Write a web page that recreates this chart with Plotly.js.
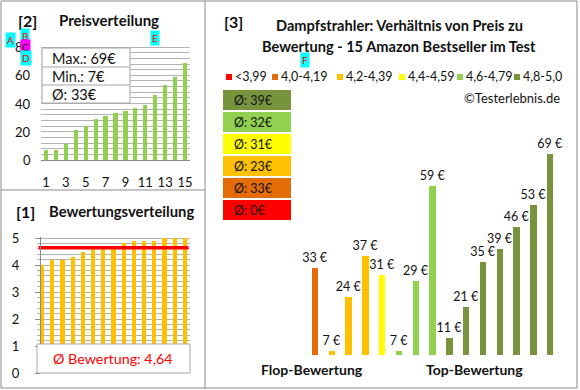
<!DOCTYPE html>
<html><head><meta charset="utf-8">
<script src="https://cdn.plot.ly/plotly-3.0.1.min.js"></script>
<style>html,body{margin:0;padding:0;background:#fff}</style>
</head><body><div id="chart" style="width:580px;height:390px"></div>
<script>
// ---------- data ----------
const rankLabels = [1,2,3,4,5,6,7,8,9,10,11,12,13,14,15];
const pricesSorted = [7,7,11,21,24,29,31,33,35,37,39,46,53,59,69];
const ratingsSorted = [4.0,4.2,4.2,4.3,4.5,4.6,4.6,4.6,4.8,4.9,4.9,4.9,5.0,5.0,5.0];
const avgRatingLabel = 4.64;
const productPrices = [33,7,24,37,31,7,29,59,11,21,35,39,46,53,69];
const productGroup  = [1,2,2,2,3,4,4,4,5,5,5,5,5,5,5];
const groupLabels = ['<3,99','4,0-4,19','4,2-4,39','4,4-4,59','4,6-4,79','4,8-5,0'];
const groupColors = ['#FF0000','#E36C09','#FFC000','#FFFF00','#92D050','#77933C'];
const sideLabels = ['Flop-Bewertung','Top-Bewertung'];
const priceTicks = [0,20,40,60,80];
const ratingTicks = [0,1,2,3,4,5];

const W = 580, H = 390;
const px = x => x / W;
const py = y => 1 - y / H;
const FONT = 'Lato, "Open Sans", sans-serif';
const BORDER = '#8a8a8a';
const GRID = '#b3b3b3';
const priceDomPx = [160, 46];
const priceRange = [0, 80.8];
const priceY = v => priceDomPx[0] - (v - priceRange[0]) / (priceRange[1] - priceRange[0]) * (priceDomPx[0] - priceDomPx[1]);

const avgPrice = Math.round(pricesSorted.reduce((a,b)=>a+b,0)/pricesSorted.length);
const groupAvg = groupLabels.map((_, g) => {
  const v = productPrices.filter((p,i)=>productGroup[i]===g);
  return v.length ? Math.round(v.reduce((a,b)=>a+b,0)/v.length) : 0;
});
const barIdx = productPrices.map((_,i)=>i+1);

const traces = [
  {type:'bar', x: rankLabels, y: pricesSorted, xaxis:'x', yaxis:'y', marker:{color:'#92D050'}, width:0.42},
  {type:'bar', x: rankLabels, y: ratingsSorted, xaxis:'x2', yaxis:'y2', marker:{color:'#FFC000'}, width:0.42},
  {type:'scatter', mode:'lines', x:[rankLabels[0]-0.35, rankLabels[rankLabels.length-1]+0.35],
   y:[avgRatingLabel, avgRatingLabel], xaxis:'x2', yaxis:'y2', line:{color:'#FF0000', width:3.5}},
  {type:'bar', x: barIdx, y: productPrices, xaxis:'x3', yaxis:'y3',
   marker:{color: productGroup.map(g=>groupColors[g])}, width:0.39,
   texttemplate:'%{y} €', textposition:'outside', cliponaxis:false, constraintext:'none',
   textfont:{family:FONT, size:12.5, color:'#111'}}
];
const shapes = [];
const annotations = [];
function rect(x0,y0,x1,y1,fill,line,lw){
  shapes.push({type:'rect', xref:'paper', yref:'paper', x0:px(x0), x1:px(x1), y0:py(y1), y1:py(y0),
    fillcolor:fill, line:{color:line||'rgba(0,0,0,0)', width: lw===undefined?1:lw}, layer:'above'});
}
function line(x0,y0,x1,y1,color,w){
  shapes.push({type:'line', xref:'paper', yref:'paper', x0:px(x0), x1:px(x1), y0:py(y0), y1:py(y1),
    line:{color:color, width:w||1}, layer:'above'});
}
function text(t,x,y,opts){
  opts = opts||{};
  annotations.push({xref:'paper', yref:'paper', x:px(x), y:py(y), text:t, showarrow:false,
    xanchor:opts.xa||'left', yanchor:'middle', bgcolor: opts.bg||'rgba(0,0,0,0)',
    font:{family:FONT, size:opts.size||12, color:opts.color||'#111', weight: opts.bold?'bold':'normal'}});
}
rect(1,1,577,388,'rgba(0,0,0,0)',BORDER,1);
line(205,1,205,388,BORDER,1);
line(1,190,205,190,BORDER,1);
text('[2]',16,20,{size:16,bold:true});
text('Preisverteilung',57,20,{size:15,bold:true});
priceTicks.forEach(v=>{ text(String(v),33,priceY(v),{size:13,xa:'right'}); });
rect(42,48,130,103,'#ffffff','#a6a6a6',1);
line(42,67,130,67,'#a6a6a6',1);
line(42,85,130,85,'#a6a6a6',1);
text('Max.: ' + Math.max(...pricesSorted) + '€',50,58,{size:14.5});
text('Min.: ' + Math.min(...pricesSorted) + '€',50,76.5,{size:14.5});
text('Ø: ' + avgPrice + '€',50,94.5,{size:14.5});
text('[1]',14,211,{size:16,bold:true});
text('Bewertungsverteilung',47,211,{size:14.8,bold:true});
rect(37,344,190,373,'#ffffff','#a6a6a6',1);
text('Ø Bewertung: ' + String(avgRatingLabel).replace('.',','),112,358,{size:14.3,color:'#FF0000',xa:'center'});
text('[3]',222,21,{size:16,bold:true});
text('Dampfstrahler: Verhältnis von Preis zu',399,26,{size:14.6,bold:true,xa:'center'});
text('Bewertung - 15 Amazon Bestseller im Test',399,46,{size:14.6,bold:true,xa:'center'});
const legendX = [226,272,337,399,457,514];
groupLabels.forEach((lab,g)=>{
  rect(legendX[g],74,legendX[g]+6,80,groupColors[g],null,0);
  text(lab,legendX[g]+7,77,{size:12.5});
});
text('©Testerlebnis.de',562,98,{size:13,xa:'right'});
for (let i=0;i<6;i++){
  const g = 5-i; const y0 = 90 + i*22;
  rect(223,y0,291,y0+20,groupColors[g],null,0);
  text('Ø: ' + groupAvg[g] + '€',232,y0+10.5,{size:12.5});
}
text(sideLabels[0],312,369,{size:14,bold:true,xa:'center'});
text(sideLabels[1],474,369,{size:14,bold:true,xa:'center'});
// DIAGNOSTIC markers
text('A',5,40,{size:10,bg:'cyan',color:'red'});
text('B',20,36,{size:10,bg:'cyan',color:'red'});
text('C',20,47,{size:10,bg:'magenta',color:'black'});
text('D',20,58,{size:10,bg:'cyan',color:'red'});
text('E',150,38,{size:10,bg:'cyan',color:'red'});
text('F',300,60,{size:10,bg:'cyan',color:'red'});

const tickFont = {family:FONT, size:13, color:'#111'};
const layout = {
  width:W, height:H, margin:{l:0,r:0,t:0,b:0},
  paper_bgcolor:'#ffffff', plot_bgcolor:'rgba(0,0,0,0)',
  showlegend:false, hovermode:false, bargap:0,
  xaxis:{domain:[px(41),px(190)], range:[0.5,15.5], tickmode:'array',
    tickvals:[1,3,5,7,9,11,13,15], ticks:'', showgrid:false, showline:true, linecolor:'#8a8a8a',
    tickfont:tickFont, ticklabelstandoff:10, zeroline:false, fixedrange:true},
  yaxis:{domain:[py(priceDomPx[0]),py(priceDomPx[1])], range:priceRange, tickmode:'array', tickvals:priceTicks,
    showgrid:true, gridcolor:GRID, showticklabels:false,
    minor:{dtick:4, showgrid:true, gridcolor:GRID, gridwidth:1}, ticks:'', zeroline:false, showline:false},
  xaxis2:{domain:[px(37),px(190)], range:[0.5,15.5], showticklabels:false, ticks:'', showgrid:false, showline:false, zeroline:false},
  yaxis2:{domain:[py(373),py(237)], range:[0,5.04], tickmode:'array', tickvals:ratingTicks,
    showgrid:true, gridcolor:GRID, ticklabeloverflow:'allow',
    minor:{dtick:0.2, showgrid:true, gridcolor:GRID, gridwidth:1},
    ticks:'outside', ticklen:5, tickcolor:'#8a8a8a', showline:true, linecolor:'#8a8a8a',
    tickfont:tickFont, ticklabelstandoff:13, zeroline:false},
  xaxis3:{domain:[px(215),px(567)], range:[-4.95,16.0], visible:false},
  yaxis3:{domain:[py(355),py(135)], range:[5.74,75], visible:false},
  shapes:shapes, annotations:annotations
};
Plotly.newPlot('chart', traces, layout, {staticPlot:true, displayModeBar:false});
</script></body></html>
